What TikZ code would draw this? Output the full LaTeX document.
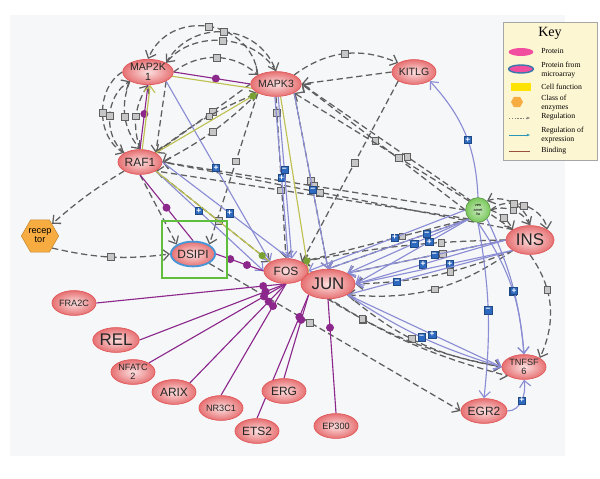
\documentclass[tikz,border=0pt]{standalone}
\usepackage{fontspec}
\setmainfont{Liberation Sans}
\newfontfamily\keyfont{Liberation Serif}
\usetikzlibrary{shapes.geometric,arrows.meta,backgrounds}
\definecolor{bgpanel}{RGB}{246,247,249}
\definecolor{protred}{RGB}{226,88,90}
\definecolor{protlight}{RGB}{252,224,224}
\definecolor{regdash}{RGB}{95,95,95}
\definecolor{exprblue}{RGB}{138,140,212}
\definecolor{sqblue}{RGB}{45,105,190}
\definecolor{bindpurple}{RGB}{140,40,140}
\definecolor{actolive}{RGB}{190,192,80}
\definecolor{actgreen}{RGB}{120,160,50}
\definecolor{boxgreen}{RGB}{95,190,60}
\definecolor{keyfill}{RGB}{253,246,210}
\definecolor{hexorange}{RGB}{246,172,64}
\definecolor{mabblue}{RGB}{70,150,215}
\definecolor{venfill}{RGB}{120,200,90}
\definecolor{exprteal}{RGB}{40,150,185}
\definecolor{bindbrown}{RGB}{150,80,60}

\tikzset{
  prot/.style={ellipse, draw=protred, line width=0.5pt, inner color=protlight,
    outer color=protred!85, minimum width=1.1cm, minimum height=0.62cm,
    inner sep=0pt, align=center, text=black!85, font=\fontsize{7.5}{7.5}\selectfont},
  small/.style={font=\fontsize{6.5}{6.5}\selectfont},
  big/.style={font=\fontsize{12}{12}\selectfont},
  mab/.style={draw=mabblue, line width=1.3pt},
  reg/.style={draw=regdash, dash pattern=on 4.5pt off 2.5pt, line width=0.9pt,
    -{Straight Barb[length=4.5pt,width=8pt]}},
  expr/.style={draw=exprblue, line width=0.8pt, -{Straight Barb[length=4.5pt,width=8pt]}},
  bind/.style={draw=bindpurple, line width=0.8pt},
  act/.style={draw=actolive, line width=0.8pt},
  sqg/.style={rectangle, solid, draw=gray!75!black, fill=gray!45, line width=0.3pt,
    minimum size=0.17cm, inner sep=0pt},
  sqb/.style={rectangle, solid, draw=sqblue!70!black, fill=sqblue, line width=0.3pt,
    minimum size=0.18cm, inner sep=0pt, text=white, font=\fontsize{6}{6}\selectfont\bfseries},
  dotp/.style={circle, fill=bindpurple, minimum size=0.2cm, inner sep=0pt},
  dotg/.style={circle, fill=actgreen, minimum size=0.18cm, inner sep=0pt},
  keytext/.style={anchor=west, align=left, inner sep=0pt, font=\keyfont\fontsize{5.5}{6}\selectfont}
}

\begin{document}
\begin{tikzpicture}[x=0.025cm,y=-0.025cm]
\useasboundingbox (0,0) rectangle (600,479);

\node[prot] (map2k) at (148,72) {MAP2K\\1};
\node[prot, minimum width=1.2cm] (mapk) at (276,84) {MAPK3};
\node[prot] (kitlg) at (414,72) {KITLG};
\node[prot, font=\fontsize{8.5}{8.5}\selectfont] (raf) at (140,162) {RAF1};
\node[regular polygon, regular polygon sides=6, fill=hexorange, draw=hexorange!80!black,
  minimum size=0.85cm, inner sep=0pt, align=center, font=\fontsize{6.5}{6.5}\selectfont] (recep) at (40,236) {recep\\tor};
\node[prot, mab, font=\fontsize{8.5}{8.5}\selectfont] (dsipi) at (193,254) {DSIPI};
\node[prot, font=\fontsize{8.5}{8.5}\selectfont] (fos) at (286,271) {FOS};
\node[prot, big, minimum width=1.35cm, minimum height=0.74cm, inner sep=-1pt] (jun) at (328,284) {JUN};
\node[circle, draw=venfill!70!black, inner color=venfill!40, outer color=venfill,
  minimum size=0.62cm, inner sep=0pt, align=center, font=\fontsize{2.8}{3}\selectfont] (ven) at (478,210) {ven\\amet\\lia};
\node[prot, big, minimum width=1.2cm, minimum height=0.72cm] (ins) at (530,240) {INS};
\node[prot, small] (fra) at (74,303) {FRA2C};
\node[prot, big, minimum width=1.05cm] (rel) at (116,340) {REL};
\node[prot, small] (nfatc) at (133,372) {NFATC\\2};
\node[prot, font=\fontsize{8.5}{8.5}\selectfont] (arix) at (174,392) {ARIX};
\node[prot, small] (nr3) at (221,408) {NR3C1};
\node[prot, font=\fontsize{8.5}{8.5}\selectfont] (ets) at (257,431) {ETS2};
\node[prot, font=\fontsize{8.5}{8.5}\selectfont] (erg) at (284,391) {ERG};
\node[prot, small] (ep) at (336,426) {EP300};
\node[prot, font=\fontsize{8.5}{8.5}\selectfont] (egr) at (484,411) {EGR2};
\node[prot, small] (tnf) at (524,367) {TNFSF\\6};

\begin{scope}[on background layer]
\fill[bgpanel] (10,15) rectangle (565,456);

\draw[reg] (mapk.north west) to[bend right=75, looseness=1.3] node[sqg]{} (map2k.north);
\draw[reg] (map2k.north east) to[bend left=65, looseness=1.2] node[sqg]{} (mapk.north);
\draw[reg] (mapk.north) to[bend right=55] node[sqg]{} (map2k.north east);
\draw[reg] (map2k.east) to[bend left=40] node[sqg]{} (mapk.north west);
\draw[reg] (map2k.west) to[bend right=60] node[sqg]{} (raf.north west);
\draw[reg] (raf.north west) to[bend left=55] node[sqg]{} (map2k.south west);
\draw[reg] (map2k.south west) to[bend right=30] node[sqg]{} (raf.north);
\draw[reg] (raf.north) to[bend left=25] node[sqg]{} (map2k.south);
\draw[reg] (map2k.south east) -- (raf.north east);
\draw[reg] (mapk.west) -- node[sqg,pos=0.4]{} (raf.north east);
\draw[reg] (raf.north east) to[bend left=8] node[sqg,pos=0.55]{} (mapk.south west);
\draw[reg] (mapk.south west) to[bend left=8] node[sqg,pos=0.5]{} (raf.east);
\draw[reg] (kitlg.west) -- (mapk.east);
\draw[reg] (mapk.north east) to[bend left=30] node[sqg]{} (kitlg.north west);
\draw[reg] (kitlg.south west) -- node[sqg,pos=0.45]{} (fos.north east);
\draw[reg] (mapk.south) -- node[sqg,pos=0.1]{} (fos.north);
\draw[reg] (mapk.south east) -- node[sqg,pos=0.5]{} (jun.north);
\draw[reg] (mapk.south west) -- node[sqg,pos=0.45]{} (dsipi.north east);
\draw[reg] (raf.south west) to[bend right=5] (recep.north east);
\draw[reg] (recep.south east) to[bend right=10] node[sqg]{} (dsipi.west);
\draw[reg] (raf.south) -- (dsipi.north west);
\draw[reg] (raf.south east) -- node[sqg,pos=0.55]{} (fos.north west);
\draw[reg] (ven.west) -- node[sqg,pos=0.55]{} (mapk.east);
\draw[reg] (ven.north west) -- node[sqg,pos=0.4]{} (mapk.south east);
\draw[reg] (ins.north west) -- node[sqg,pos=0.5]{} (mapk.east);
\draw[reg] (ins.north west) -- node[sqg,pos=0.55]{} (raf.east);
\draw[reg] (ven.west) -- node[sqg,pos=0.5]{} (raf.east);
\draw[reg] (ven.south west) -- node[sqg,pos=0.6]{} (raf.south east);
\draw[reg] (ven.south west) -- node[sqg,pos=0.4]{} (fos.north east);
\draw[reg] (ven.south west) -- node[sqg,pos=0.3]{} (jun.north);
\draw[reg] (ins.west) to[bend right=5] node[sqg,pos=0.3]{} (fos.north east);
\draw[reg] (ins.west) -- node[sqg,pos=0.4]{} (jun.north east);
\draw[reg] (ins.south west) to[bend left=10] node[sqg,pos=0.4]{} (jun.east);
\draw[reg] (ins.south west) to[bend left=20] node[sqg,pos=0.5]{} (jun.south east);
\draw[reg] (jun.south east) to[bend right=15] node[sqg,pos=0.45]{} (tnf.west);
\draw[reg] (jun.south) to[bend right=10] node[sqg,pos=0.2]{} (tnf.west);
\draw[reg] (dsipi.south east) -- node[sqg,pos=0.4]{} (egr.west);
\draw[reg] (fos.south east) to[bend right=10] node[sqg,pos=0.3]{} (tnf.south west);
\draw[reg] (ins.south) to[bend left=30] node[sqg,pos=0.35]{} (tnf.north east);
\draw[reg] (ven.east) to[bend left=40] node[sqg]{} (ins.north);
\draw[reg] (ven.east) to[bend left=60] node[sqg]{} (ins.north east);
\draw[reg] (ins.north) to[bend right=50] node[sqg]{} (ven.north east);
\draw[reg] (ven.east) to[bend left=20] node[sqg]{} (ins.north west);

\draw[expr] (ven.north) to[bend right=20] node[sqb,pos=0.45]{+} (kitlg.south east);
\draw[expr] (mapk.-95) -- node[sqb,pos=0.5]{+} (fos.80);
\draw[expr] (mapk.-80) -- node[sqb,pos=0.45]{−} (fos.65);
\draw[expr] (map2k.south east) -- node[sqb,pos=0.48]{+} (fos.north west);
\draw[expr] (raf.south east) -- node[sqb,pos=0.4]{+} (fos.west);
\draw[expr] (raf.east) -- node[sqb,pos=0.46]{+} (jun.north west);
\draw[expr] (mapk.south east) -- node[sqb,pos=0.55]{−} (jun.north);
\draw[expr] (ven.west) -- node[sqb,pos=0.45]{+} (fos.east);
\draw[expr] (ven.south west) -- node[sqb,pos=0.45]{−} (jun.north east);
\draw[expr] (ven.south west) -- node[sqb,pos=0.35]{+} (jun.east);
\draw[expr] (ven.south west) -- node[sqb,pos=0.3]{−} (jun.north);
\draw[expr] (ins.west) -- node[sqb,pos=0.55]{+} (jun.east);
\draw[expr] (ins.west) -- node[sqb,pos=0.45]{−} (jun.north east);
\draw[expr] (ins.south west) -- node[sqb,pos=0.4]{+} (jun.east);
\draw[expr] (ins.south west) -- node[sqb,pos=0.7]{−} (jun.south east);
\draw[expr] (jun.south east) -- node[sqb,pos=0.55]{+} (tnf.west);
\draw[expr] (jun.south east) to[bend right=8] node[sqb,pos=0.5]{−} (tnf.west);
\draw[expr] (ven.south) to[bend left=15] node[sqb,pos=0.55]{−} (tnf.north);
\draw[expr] (ven.south east) to[bend left=10] node[sqb,pos=0.55]{+} (tnf.north);
\draw[expr] (ven.south) to[bend left=8] node[sqb,pos=0.5]{−} (egr.north);
\draw[expr] (egr.east) to[out=0,in=-80] node[sqb,pos=0.5]{+} (tnf.south);

\draw[bind] (map2k.east) -- node[dotp,pos=0.55]{} (mapk.west);
\draw[bind] (raf.north) -- node[dotp,pos=0.55]{} (map2k.south);
\draw[bind] (raf.south) -- node[dotp,pos=0.5]{} (dsipi.north);
\draw[bind] (dsipi.east) -- node[dotp,pos=0.3]{} node[dotp,pos=0.65]{} (fos.west);
\draw[bind] (fra.east) -- node[dotp,pos=0.88]{} (fos.south);
\draw[bind] (rel.east) -- node[dotp,pos=0.86]{} (fos.south);
\draw[bind] (nfatc.north east) -- node[dotp,pos=0.84]{} (fos.south);
\draw[bind] (arix.north east) -- node[dotp,pos=0.82]{} (fos.south);
\draw[bind] (nr3.north) -- node[dotp,pos=0.8]{} (fos.south);
\draw[bind] (ets.north) -- node[dotp,pos=0.82]{} (jun.south west);
\draw[bind] (erg.north) -- node[dotp,pos=0.7]{} (jun.south west);
\draw[bind] (ep.north) -- node[dotp,pos=0.75]{} (jun.south);

\draw[act, -{Straight Barb[length=4.5pt,width=8pt]}] (raf.80) -- (map2k.-80);
\draw[act] (raf.north east) -- node[dotg,pos=0.95]{} (mapk.south west);
\draw[act] (map2k.-10) -- (mapk.190);
\draw[act] (mapk.-70) -- node[dotg,pos=0.93]{} (jun.north west);
\draw[act] (raf.south east) -- node[dotg,pos=0.93]{} (fos.north west);
\end{scope}

\draw[boxgreen, line width=1.5pt] (162,221) rectangle (227,278);

\node[draw=gray!70, fill=keyfill, line width=0.6pt, minimum width=2.35cm, minimum height=3.45cm] (key) at (550,91) {};
\node[font=\keyfont\fontsize{10}{10}\selectfont] (keyt) at (550,33) {Key};
\node[ellipse, fill=magenta!60!pink, minimum width=0.62cm, minimum height=0.2cm, inner sep=0pt] (kprot) at (521,52) {};
\node[keytext] (kprott) at (541,51) {Protein};
\node[ellipse, fill=magenta!60!pink, draw=mabblue!80!black, line width=1pt, minimum width=0.62cm, minimum height=0.2cm, inner sep=0pt] (kmab) at (521,69) {};
\node[keytext] (kmabt) at (541,70) {Protein from\\microarray};
\node[rectangle, fill=yellow!85!orange, minimum width=0.5cm, minimum height=0.2cm, inner sep=0pt] (kcell) at (521,87) {};
\node[keytext] (kcellt) at (541,87) {Cell function};
\node[regular polygon, regular polygon sides=6, fill=hexorange, minimum size=0.3cm, inner sep=0pt] (kenz) at (517,102) {};
\node[keytext] (kenzt) at (541,103) {Class of\\enzymes};
\coordinate (kregA) at (509,118);
\coordinate (kregB) at (530,118);
\draw[dash pattern=on 1pt off 1pt, draw=gray, line width=0.4pt, -{Stealth[length=2.5pt]}] (kregA) -- (kregB);
\node[keytext] (kregt) at (541,117) {Regulation};
\coordinate (kexpA) at (509,135);
\coordinate (kexpB) at (530,135);
\draw[exprteal, line width=0.5pt, -{Stealth[length=2.5pt]}] (kexpA) -- (kexpB);
\node[keytext] (kexpt) at (541,135) {Regulation of\\expression};
\coordinate (kbindA) at (509,151);
\coordinate (kbindB) at (530,151);
\draw[bindbrown, line width=0.5pt] (kbindA) -- (kbindB);
\node[keytext] (kbindt) at (541,151) {Binding};
\end{tikzpicture}
\end{document}
